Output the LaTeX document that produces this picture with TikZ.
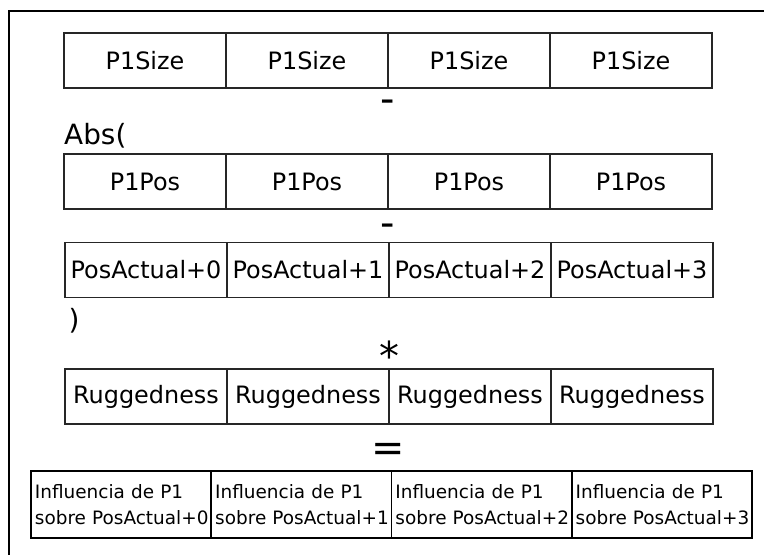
\documentclass[tikz,border=0pt]{standalone}
\usepackage{fontspec}
\setmainfont{DejaVu Sans}
\usetikzlibrary{positioning}

\newcommand{\reslabel}[1]{\mbox{Influencia de P1}\\\mbox{sobre PosActual+#1}}

\tikzset{
  cell/.style={draw=black!85, line width=1.2bp, minimum width=162bp, minimum height=55bp,
    inner sep=0, outer sep=0, font=\fontsize{24}{28}\selectfont},
  rescell/.style={draw=black, line width=1.8bp, minimum width=180.25bp, minimum height=67bp,
    inner xsep=4bp, inner ysep=0, outer sep=0, text width=172.25bp, align=left,
    font=\fontsize{18.5}{26}\selectfont},
  op/.style={anchor=base, inner sep=0, font=\fontsize{40}{40}\selectfont},
  paren/.style={anchor=base west, inner sep=0, font=\fontsize{28}{30}\selectfont}
}

\begin{document}
\begin{tikzpicture}[x=1bp, y=-1bp]
\useasboundingbox (0,0) rectangle (764,555);
\draw[line width=2.5bp] (9,555) -- (9,11) -- (764,11);

% first row of each vector at a coordinate, the rest to its right
\node[cell] (size0) at (145,60.5) {P1Size};
\foreach \i [remember=\i as \j (initially 0)] in {1,2,3}
  \node[cell, right=0pt of size\j] (size\i) {P1Size};

\node[op] (minus1) at (388,113) {-};
\node[paren] (absopen) at (64,145) {Abs(};

\node[cell] (pos0) at (145,181.5) {P1Pos};
\foreach \i [remember=\i as \j (initially 0)] in {1,2,3}
  \node[cell, right=0pt of pos\j] (pos\i) {P1Pos};

\node[op] (minus2) at (388,237) {-};

\node[cell] (act0) at (146,270) {PosActual+0};
\foreach \i [remember=\i as \j (initially 0)] in {1,2,3}
  \node[cell, right=0pt of act\j] (act\i) {PosActual+\i};

\node[paren] (absclose) at (68.5,329) {)};
\node[op] (times) at (389,370) {*};

\node[cell] (rug0) at (146,396.5) {Ruggedness};
\foreach \i [remember=\i as \j (initially 0)] in {1,2,3}
  \node[cell, right=0pt of rug\j] (rug\i) {Ruggedness};

\node[op] (equals) at (388,461) {=};

\node[rescell] (res0) at (121.1,504.5) {\reslabel{0}};
\foreach \i [remember=\i as \j (initially 0)] in {1,2,3}
  \node[rescell, right=0pt of res\j] (res\i) {\reslabel{\i}};
\end{tikzpicture}
\end{document}
